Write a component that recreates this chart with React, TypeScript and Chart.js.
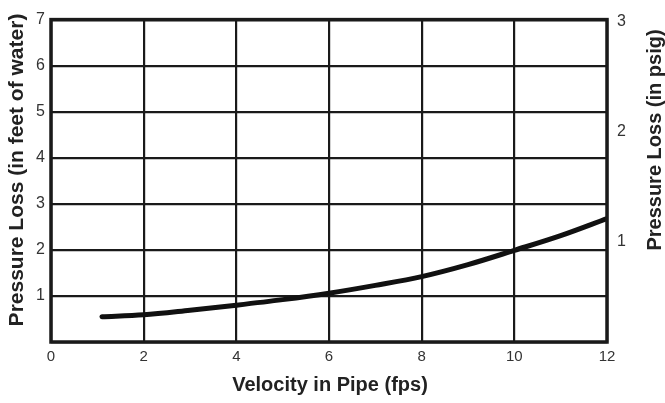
import React, { useEffect, useRef } from "react";
import { Chart, registerables } from "chart.js";

Chart.register(...registerables);

const velocity = [1.1, 2, 3, 4, 5, 6, 7, 8, 9, 10, 11, 12];
const lossFeet = [0.55, 0.59, 0.69, 0.8, 0.92, 1.06, 1.23, 1.42, 1.68, 1.99, 2.31, 2.68];
const rightTicks = [1, 2, 3];
const xTitle = "Velocity in Pipe (fps)";
const leftTitle = "Pressure Loss (in feet of water)";
const rightTitle = "Pressure Loss (in psig)";

const FONT = "'Liberation Sans', Arial, Helvetica, sans-serif";

const framePlugin = {
  id: "frameAndTitles",
  afterDatasetsDraw(chart: any) {
    const { ctx, chartArea } = chart;
    ctx.save();
    ctx.strokeStyle = "#1a1a1a";
    ctx.lineWidth = 3.5;
    ctx.strokeRect(chartArea.left, chartArea.top, chartArea.right - chartArea.left, chartArea.bottom - chartArea.top);
    ctx.fillStyle = "#222";
    ctx.textAlign = "center";
    ctx.textBaseline = "middle";
    ctx.font = `bold 20px ${FONT}`;
    ctx.fillText(xTitle, 330, 385);
    ctx.save();
    ctx.translate(17, 170);
    ctx.rotate(-Math.PI / 2);
    ctx.font = `bold 21px ${FONT}`;
    ctx.fillText(leftTitle, 0, 0);
    ctx.restore();
    ctx.save();
    ctx.translate(655, 140);
    ctx.rotate(-Math.PI / 2);
    ctx.font = `bold 20px ${FONT}`;
    ctx.fillText(rightTitle, 0, 0);
    ctx.restore();
    ctx.restore();
  },
};

export default function App() {
  const ref = useRef<HTMLCanvasElement>(null);
  useEffect(() => {
    document.body.style.margin = "0";
    const chart = new Chart(ref.current!, {
      type: "scatter",
      data: {
        datasets: [
          {
            data: velocity.map((v, i) => ({ x: v, y: lossFeet[i] })),
            showLine: true,
            borderColor: "#111",
            borderWidth: 5,
            pointRadius: 0,
            cubicInterpolationMode: "monotone",
            borderCapStyle: "round",
          } as any,
        ],
      },
      options: {
        animation: false,
        responsive: false,
        layout: { padding: { top: 11, left: 0, right: 0, bottom: 0 } },
        plugins: { legend: { display: false }, tooltip: { enabled: false } },
        scales: {
          x: {
            type: "linear",
            min: 0,
            max: 12,
            ticks: { stepSize: 2, color: "#333", font: { family: FONT, size: 15 }, padding: 6 },
            grid: { color: "#1a1a1a", lineWidth: 2.2, drawTicks: false },
            border: { display: false },
            afterFit: (s: any) => { s.height = 61; },
          },
          y: {
            type: "linear",
            position: "left",
            min: 0,
            max: 7,
            ticks: {
              stepSize: 1,
              color: "#333",
              font: { family: FONT, size: 16 },
              padding: 6,
              callback: (v: any) => (v === 0 ? "" : String(v)),
            },
            grid: { color: "#1a1a1a", lineWidth: 2.2, drawTicks: false },
            border: { display: false },
            afterFit: (s: any) => { s.width = 51; },
          },
          y1: {
            type: "linear",
            position: "right",
            min: 0.09,
            max: 3.02,
            afterBuildTicks: (s: any) => { s.ticks = rightTicks.map((v) => ({ value: v })); },
            ticks: { color: "#333", font: { family: FONT, size: 16 }, padding: 10 },
            grid: { display: false, drawTicks: false },
            border: { display: false },
            afterFit: (s: any) => { s.width = 58; },
          },
        },
      },
      plugins: [framePlugin],
    });
    return () => chart.destroy();
  }, []);
  return <canvas ref={ref} width={665} height={403} style={{ display: "block" }} />;
}
